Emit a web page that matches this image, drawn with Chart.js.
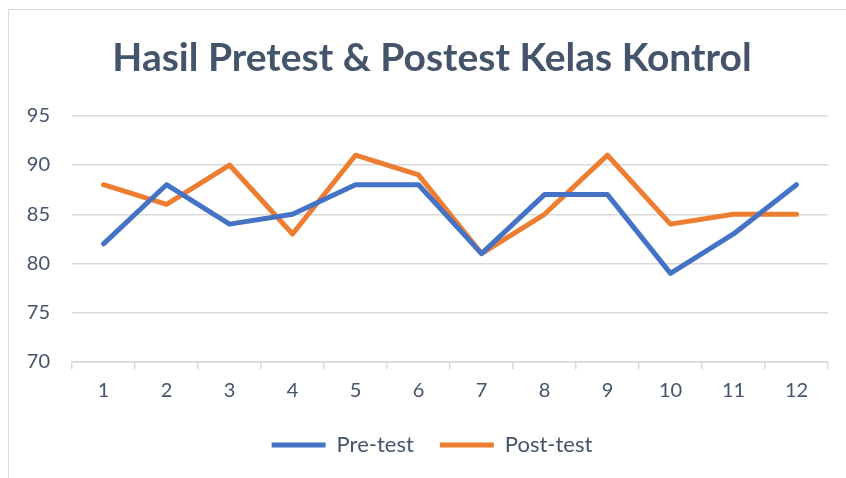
<!DOCTYPE html>
<html lang="id">
<head>
    <meta charset="UTF-8">
    <title>Hasil Pretest & Postest Kelas Kontrol</title>
    <script src="https://cdn.jsdelivr.net/npm/chart.js"></script>
    <style>
        html, body { margin: 0; padding: 0; background: #fff; }
        #wrap { position: relative; width: 846px; height: 478px; overflow: hidden; }
        #frame { position: absolute; left: 8px; top: 9px; width: 900px; height: 500px; border: 1px solid #D9DDE3; box-sizing: border-box; }
        #chart { position: absolute; left: 0; top: 0; }
    </style>
</head>
<body>
    <div id="wrap">
        <div id="frame"></div>
        <canvas id="chart" width="846" height="478"></canvas>
    </div>
    <script>
        const pertemuan = ["1", "2", "3", "4", "5", "6", "7", "8", "9", "10", "11", "12"];
        const preTest = [82, 88, 84, 85, 88, 88, 81, 87, 87, 79, 83, 88];
        const postTest = [88, 86, 90, 83, 91, 89, 81, 85, 91, 84, 85, 85];
        const yMin = 70, yMax = 95, yStep = 5;

        const textColor = "#44546A";
        const gridColor = "#D9D9D9";
        const fontFamily = "Lato, 'Open Sans', sans-serif";

        // title and legend are centred on the frame, not on the whole canvas
        const shiftBlocks = {
            id: "shiftBlocks",
            afterLayout(chart) {
                chart.titleBlock.left += 36;
                chart.legend.left += 36;
            }
        };

        const ctx = document.getElementById("chart").getContext("2d");
        new Chart(ctx, {
            type: "line",
            data: {
                labels: pertemuan,
                datasets: [
                    {
                        label: "Pre-test",
                        data: preTest,
                        borderColor: "#4472C4",
                        backgroundColor: "#4472C4",
                        borderWidth: 5,
                        pointRadius: 0,
                        tension: 0,
                        borderJoinStyle: "round",
                        borderCapStyle: "round"
                    },
                    {
                        label: "Post-test",
                        data: postTest,
                        borderColor: "#ED7D31",
                        backgroundColor: "#ED7D31",
                        borderWidth: 5,
                        pointRadius: 0,
                        tension: 0,
                        borderJoinStyle: "round",
                        borderCapStyle: "round"
                    }
                ]
            },
            options: {
                responsive: false,
                animation: false,
                layout: { padding: { left: 0, right: 18, top: 0, bottom: 12 } },
                plugins: {
                    title: {
                        display: true,
                        text: "Hasil Pretest & Postest Kelas Kontrol",
                        color: textColor,
                        font: { family: fontFamily, size: 39, weight: "bold" },
                        padding: { top: 35, bottom: 34 }
                    },
                    legend: {
                        position: "bottom",
                        labels: {
                            color: textColor,
                            font: { family: fontFamily, size: 22 },
                            usePointStyle: true,
                            pointStyle: "line",
                            pointStyleWidth: 54,
                            padding: 26
                        }
                    },
                    tooltip: { enabled: false }
                },
                scales: {
                    x: {
                        offset: true,
                        grid: {
                            offset: true,
                            drawOnChartArea: false,
                            color: gridColor,
                            tickLength: 7,
                            lineWidth: 1.5
                        },
                        border: { color: gridColor, width: 1.5 },
                        ticks: {
                            color: textColor,
                            font: { family: fontFamily, size: 20 },
                            padding: 10,
                            maxRotation: 0
                        },
                        afterFit: function(scale) { scale.height -= 5; }
                    },
                    y: {
                        min: yMin,
                        max: yMax,
                        ticks: {
                            stepSize: yStep,
                            color: textColor,
                            font: { family: fontFamily, size: 20 },
                            padding: 22
                        },
                        grid: {
                            color: gridColor,
                            drawTicks: false,
                            lineWidth: 1.5
                        },
                        border: { display: false },
                        afterFit: function(scale) { scale.width = 72; }
                    }
                }
            },
            plugins: [shiftBlocks]
        });
    </script>
</body>
</html>
